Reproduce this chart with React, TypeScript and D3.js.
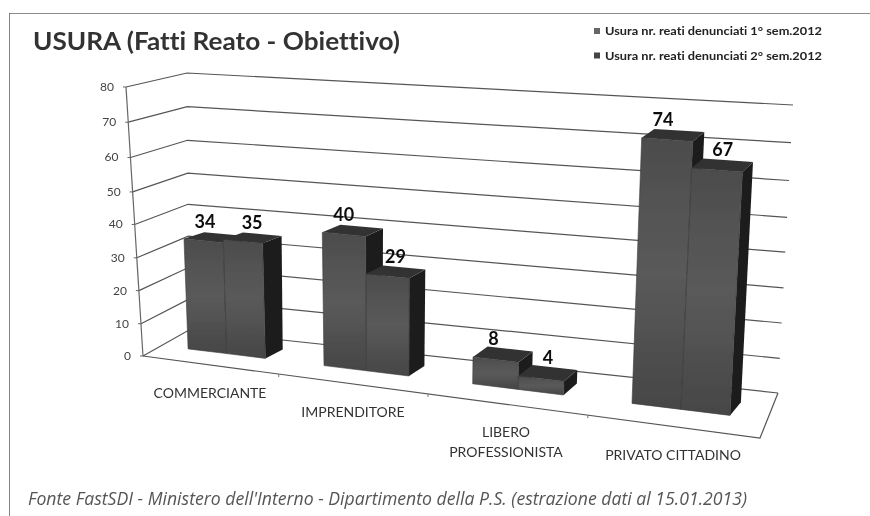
import React from "react";
import * as d3 from "d3";

const categories = ["COMMERCIANTE", "IMPRENDITORE", "LIBERO PROFESSIONISTA", "PRIVATO CITTADINO"];
const series1 = [34, 40, 8, 74];
const series2 = [35, 29, 4, 67];
const yTicks = [0, 10, 20, 30, 40, 50, 60, 70, 80];
const yTickFractions = [0, 0.12, 0.243, 0.365, 0.489, 0.61, 0.738, 0.869, 1];
const legendLabels = ["Usura nr. reati denunciati 1° sem.2012", "Usura nr. reati denunciati 2° sem.2012"];

type P = [number, number];
const FL0: P = [143, 356], FL80: P = [126, 87];
const FR0: P = [760, 438], FR80: P = [778, 138];
const BL0: P = [189, 330], BL80: P = [187, 73];
const BR0: P = [778, 393], BR80: P = [793, 105];

const catU = d3.scaleLinear().domain([0, 1, 2, 3, 4]).range([0, 0.22, 0.462, 0.721, 1]);
const depth = d3.scaleLinear().domain([0, 1]).range([0.4, 0.7]);
const hScale = d3.scaleLinear().domain(yTicks).range(yTickFractions);
const barSkew = 5;

const mix = (a: P, b: P, t: number): P => [a[0] + (b[0] - a[0]) * t, a[1] + (b[1] - a[1]) * t];
function project(u: number, v: number, val: number): P {
  const h = hScale(val);
  const p0 = mix(mix(FL0, FR0, u), mix(BL0, BR0, u), v);
  const p1 = mix(mix(FL80, FR80, u), mix(BL80, BR80, u), v);
  return mix(p0, p1, h);
}
const shift = (p: P): P => [p[0] + barSkew, p[1]];
const poly = (pts: P[]) => pts.map((p) => p.map((n) => n.toFixed(1)).join(",")).join(" ");
const font = "Lato, 'Open Sans', sans-serif";

function Bar({ cat, idx, value }: { cat: number; idx: number; value: number }) {
  const local = [0.2, 0.49, 0.78];
  const u0 = catU(cat + local[idx]);
  const u1 = catU(cat + local[idx + 1]);
  const vf = depth(0), vb = depth(1);
  const a = project(u0, vf, 0), b = project(u1, vf, 0), c = project(u1, vf, value), d = project(u0, vf, value);
  const e = shift(project(u1, vb, 0)), f = shift(project(u1, vb, value)), g = shift(project(u0, vb, value));
  return (
    <g>
      <polygon points={poly([b, e, f, c])} fill="#1c1c1c" />
      <polygon points={poly([d, c, f, g])} fill="#333" />
      <polygon points={poly([a, b, c, d])} fill="url(#face)" stroke="#3c3c3c" strokeWidth={0.6} />
    </g>
  );
}

export default function App() {
  const W = 870, H = 516;
  const labelPos: { x: number; y: number; lines: string[] }[] = [
    { x: 210, y: 398, lines: [categories[0]] },
    { x: 353, y: 417, lines: [categories[1]] },
    { x: 506, y: 437, lines: ["LIBERO", "PROFESSIONISTA"] },
    { x: 673, y: 460, lines: [categories[3]] },
  ];
  return (
    <svg width={W} height={H} style={{ position: "absolute", left: 0, top: 0, background: "#fff" }}>
      <defs>
        <linearGradient id="face" x1="0" x2="0" y1="0" y2="1">
          <stop offset="0" stopColor="#4c4c4c" />
          <stop offset="0.5" stopColor="#5a5a5a" />
          <stop offset="1" stopColor="#464646" />
        </linearGradient>
        <filter id="soft" x="0" y="0" width="100%" height="100%">
          <feGaussianBlur stdDeviation="0.6" />
        </filter>
      </defs>
      <g filter="url(#soft)">
        <path d="M9,516 V13 H870" fill="none" stroke="#666" strokeWidth={1.6} />
        <text x={33} y={50} textLength={367} lengthAdjust="spacingAndGlyphs" fontFamily={font} fontWeight={700} fontSize={25} fill="#333" style={{ fontVariantLigatures: "none" }}>USURA (Fatti Reato - Obiettivo)</text>
        {legendLabels.map((t, i) => (
          <g key={t}>
            <rect x={594} y={28 + i * 24.5} width={6} height={6} fill={i ? "#444" : "#666"} />
            <text x={605} y={35 + i * 24.5} textLength={217} lengthAdjust="spacingAndGlyphs" fontFamily={font} fontWeight={700} fontSize={11.5} fill="#222" style={{ fontVariantLigatures: "none" }}>{t}</text>
          </g>
        ))}
        {yTicks.map((t) => {
          const fl = project(0, 0, t), bl = project(0, 1, t), br = project(1, 1, t);
          return (
            <g key={t}>
              <polyline points={poly([fl, bl, br])} fill="none" stroke="#555" strokeWidth={1.2} />
              <line x1={fl[0] - 3} y1={fl[1]} x2={fl[0]} y2={fl[1]} stroke="#666" />
              <text x={fl[0] - 12} y={fl[1] + 4} textAnchor="end" fontFamily={font} fontSize={12} fill="#444">{t}</text>
            </g>
          );
        })}
        <line x1={FL0[0]} y1={FL0[1]} x2={FL80[0]} y2={FL80[1]} stroke="#666" strokeWidth={1.2} />
        <polyline points={poly([FL0, FR0, BR0])} fill="none" stroke="#555" strokeWidth={1.2} />
        {[1, 2, 3].map((c) => {
          const p = project(catU(c), 0, 0);
          return <line key={c} x1={p[0]} y1={p[1]} x2={p[0]} y2={p[1] + 3} stroke="#777" />;
        })}
        {categories.map((_, c) => (
          <g key={c}>
            <Bar cat={c} idx={0} value={series1[c]} />
            <Bar cat={c} idx={1} value={series2[c]} />
          </g>
        ))}
        {categories.map((_, c) =>
          [series1[c], series2[c]].map((val, i) => {
            const u = catU(c + (i ? 0.65 : 0.3));
            const p = project(u, depth(0.5), val);
            return (
              <text key={i} x={p[0]} y={p[1] - 9} textAnchor="middle" fontFamily={font} fontWeight={700} fontSize={18} fill="#111">{val}</text>
            );
          })
        )}
        {labelPos.map((l) =>
          l.lines.map((s, i) => (
            <text key={s} x={l.x} y={l.y + i * 20} textAnchor="middle" fontFamily={font} fontSize={14} fill="#333">{s}</text>
          ))
        )}
        <text x={28} y={505} textLength={719} lengthAdjust="spacingAndGlyphs" fontFamily="'Open Sans', sans-serif" fontStyle="italic" fontSize={18} fill="#555">Fonte FastSDI - Ministero dell'Interno - Dipartimento della P.S. (estrazione dati al 15.01.2013)</text>
      </g>
    </svg>
  );
}
